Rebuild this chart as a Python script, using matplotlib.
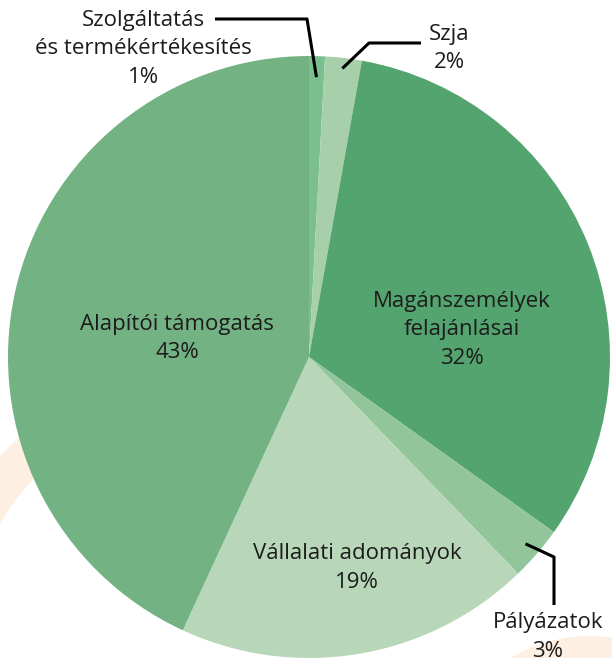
import matplotlib
matplotlib.use("Agg")
import matplotlib.pyplot as plt
import numpy as np
from matplotlib.patches import Wedge, Circle

labels = ["Szolgáltatás\nés termékértékesítés", "Szja", "Magánszemélyek\nfelajánlásai",
          "Pályázatok", "Vállalati adományok", "Alapítói támogatás"]
values = [0.85, 1.96, 32.06, 2.9, 19.1, 43.1]
colors = ["#7bbf8f", "#a7cfa9", "#53a46e", "#93c59b", "#b8d7b8", "#73b283"]

W, H = 612, 658
fig = plt.figure(figsize=(W / 100, H / 100), dpi=100)
ax = fig.add_axes([0, 0, 1, 1])

FONT = "Open Sans"
TXT = "#1c1c1c"
peach = "#fdefe1"

# background decorations
ax.add_patch(Wedge((190, H - 631), 258, 120, 175, width=40, facecolor=peach, edgecolor="none", zorder=0))
ax.add_patch(Circle((590, H - 790), 154, facecolor=peach, edgecolor="none", zorder=0))

cx, cy, R = 309, H - 357, 301
wedges, _ = ax.pie(values, colors=colors, startangle=90, counterclock=False,
                   center=(cx, cy), radius=R, frame=True,
                   wedgeprops=dict(linewidth=0, zorder=2))
ax.set_xlim(0, W)
ax.set_ylim(0, H)
ax.set_aspect("equal")
ax.axis("off")

total = sum(values)
pcts = [f"{round(v / total * 100)}%" for v in values]

def mid_point(i, frac):
    w = wedges[i]
    a = np.deg2rad((w.theta1 + w.theta2) / 2)
    return cx + frac * R * np.cos(a), cy + frac * R * np.sin(a)

fs = 16
ls = 1.45
# inside labels
inside = {5: (177, 338.5), 2: (462, 330), 4: (357, 568)}
for i, (x, y) in inside.items():
    ax.text(x, H - y, labels[i] + "\n" + pcts[i], ha="center", va="center",
            fontsize=fs, family=FONT, color=TXT, linespacing=ls, zorder=5)

lw = 2.2
# Szolgáltatás
sx, sy = mid_point(0, 0.93)
ax.plot([sx, 307, 215], [sy, H - 19, H - 19], color="black", lw=lw, solid_capstyle="butt", zorder=4)
ax.text(143, H - 49, labels[0] + "\n" + pcts[0], ha="center", va="center",
        fontsize=fs, family=FONT, color=TXT, linespacing=ls, zorder=5)
# Szja
sx, sy = mid_point(1, 0.965)
ax.plot([sx, 369, 421], [sy, H - 43, H - 43], color="black", lw=lw, solid_capstyle="butt", zorder=4)
ax.text(449, H - 48.5, labels[1] + "\n" + pcts[1], ha="center", va="center",
        fontsize=fs, family=FONT, color=TXT, linespacing=ls, zorder=5)
# Pályázatok
sx, sy = mid_point(3, 0.95)
ax.plot([sx, 554, 554], [sy, H - 557, H - 605], color="black", lw=lw, solid_capstyle="butt", zorder=4)
ax.text(548, H - 637, labels[3] + "\n" + pcts[3], ha="center", va="center",
        fontsize=fs, family=FONT, color=TXT, linespacing=ls, zorder=5)

fig.savefig("out.png", dpi=100)
